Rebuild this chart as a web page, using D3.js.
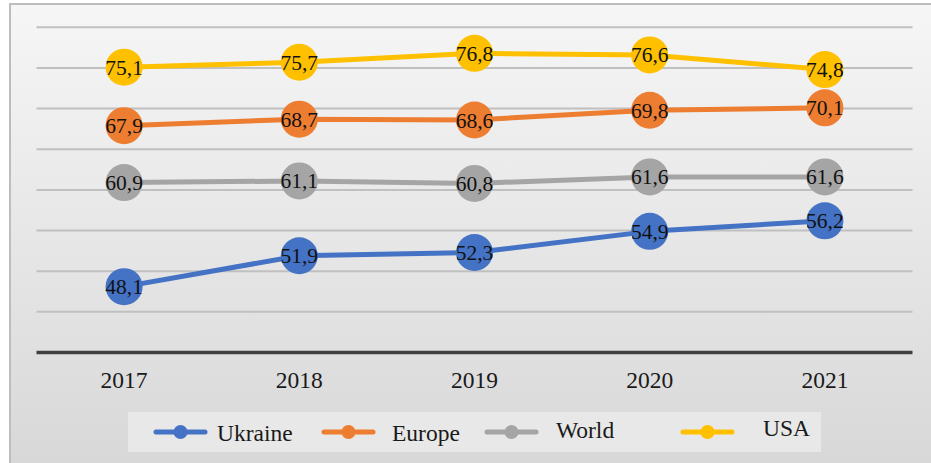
<!DOCTYPE html>
<html><head><meta charset="utf-8">
<script src="https://cdn.jsdelivr.net/npm/d3@7"></script>
<style>
html,body{margin:0;padding:0;background:#fff;}
svg{display:block;}
svg text{font-family:"Liberation Serif","Times New Roman",Times,"DejaVu Serif",serif;}
</style>
</head><body>
<script>
const years = ["2017","2018","2019","2020","2021"];
const seriesNames = ["Ukraine","Europe","World","USA"];
const ukraine = [48.1, 51.9, 52.3, 54.9, 56.2];
const europe  = [67.9, 68.7, 68.6, 69.8, 70.1];
const world   = [60.9, 61.1, 60.8, 61.6, 61.6];
const usa     = [75.1, 75.7, 76.8, 76.6, 74.8];
const yTicks  = [45, 50, 55, 60, 65, 70, 75, 80];
const colors  = ["#4472C4","#ED7D31","#A5A5A5","#FFC000"];

const W = 931, H = 463;
const svg = d3.select("body").append("svg").attr("width", W).attr("height", H);
const defs = svg.append("defs");
const grad = defs.append("linearGradient").attr("id","bg").attr("x1",0).attr("y1",0).attr("x2",0).attr("y2",1);
grad.append("stop").attr("offset","0%").attr("stop-color","#f6f6f6");
grad.append("stop").attr("offset","100%").attr("stop-color","#d8d8d8");

svg.append("rect").attr("x",10).attr("y",4).attr("width",W-10).attr("height",H-4).attr("fill","url(#bg)");
svg.append("line").attr("x1",10).attr("x2",10).attr("y1",3).attr("y2",H).attr("stroke","#bdbdbd").attr("stroke-width",2);
svg.append("line").attr("x1",9).attr("x2",W).attr("y1",4).attr("y2",4).attr("stroke","#bdbdbd").attr("stroke-width",2);

const x = d3.scaleBand().domain(years).range([36.5, 912.5]).padding(0);
const y = d3.scaleLinear().domain([40, 80]).range([352.5, 27.3]);

const grid = svg.append("g");
grid.selectAll("line").data(yTicks).join("line")
  .attr("x1", 36.5).attr("x2", 912.5)
  .attr("y1", d => y(d)).attr("y2", d => y(d))
  .attr("stroke", "#c0c0c0").attr("stroke-width", 2);

const xAxis = svg.append("g").attr("transform", `translate(0,${y(40)})`)
  .call(d3.axisBottom(x).tickSize(0).tickPadding(19));
xAxis.attr("font-family", null).attr("font-size", null);
xAxis.select(".domain").attr("stroke","#404040").attr("stroke-width",3.5).attr("d","M36.5,0H912.5");
xAxis.selectAll("text").style("font-size","23.5px").attr("fill","#1a1a1a");

const data = [ukraine, europe, world, usa];
const line = d3.line().x((d,i) => x(years[i]) + x.bandwidth()/2).y(d => y(d));

data.forEach((vals, si) => {
  const g = svg.append("g");
  g.append("path").attr("d", line(vals)).attr("fill","none")
    .attr("stroke", colors[si]).attr("stroke-width", 5).attr("stroke-linejoin","round");
  g.selectAll("circle").data(vals).join("circle")
    .attr("cx", (d,i) => x(years[i]) + x.bandwidth()/2).attr("cy", d => y(d))
    .attr("r", 18.5).attr("fill", colors[si]);
  g.selectAll("text").data(vals).join("text")
    .attr("x", (d,i) => x(years[i]) + x.bandwidth()/2).attr("y", d => y(d))
    .attr("dy","0.35em").attr("text-anchor","middle")
    .style("font-size","21.5px").attr("fill","#111")
    .text(d => d.toFixed(1).replace(".", ","));
});

// legend
const lg = svg.append("g");
lg.append("rect").attr("x",128).attr("y",412).attr("width",693).attr("height",40).attr("fill","#e8e8e8");
const legX = [156, 324, 487, 683];
const legTextX = [217, 392, 556, 763];
const legTextY = [441, 441, 438, 436];
seriesNames.forEach((n, i) => {
  lg.append("line").attr("x1", legX[i]).attr("x2", legX[i] + 49).attr("y1", 432).attr("y2", 432)
    .attr("stroke", colors[i]).attr("stroke-width", 5).attr("stroke-linecap","round");
  lg.append("circle").attr("cx", legX[i] + 24.5).attr("cy", 432).attr("r", 7).attr("fill", colors[i]);
  lg.append("text").attr("x", legTextX[i]).attr("y", legTextY[i])
    .style("font-size","23.5px").attr("fill","#1a1a1a").text(n);
});
</script>
</body></html>
